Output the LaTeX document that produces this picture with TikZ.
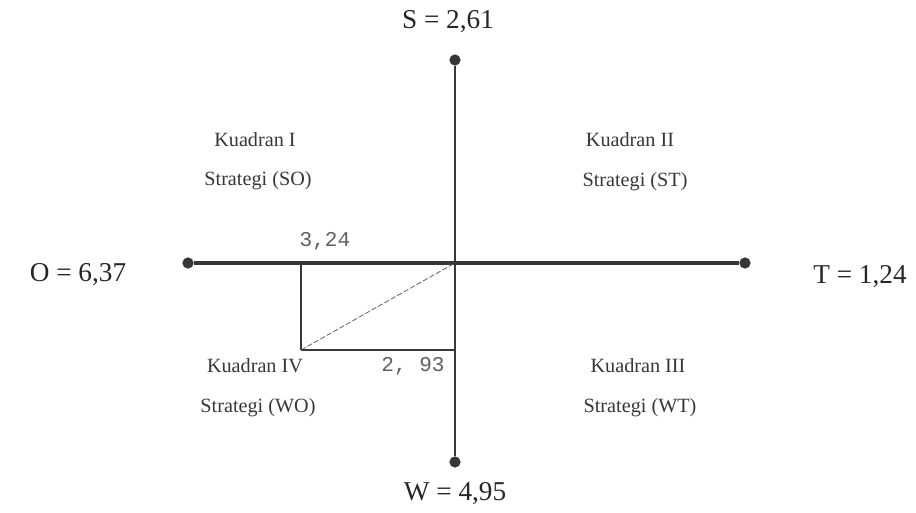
\documentclass[tikz,border=0pt]{standalone}
\usepackage{fontspec}
\setmainfont{Liberation Serif}
\newfontfamily\numfont{Liberation Mono}
\usetikzlibrary{positioning}
\definecolor{ink}{RGB}{55,55,55}
\definecolor{numgray}{RGB}{95,95,95}

\begin{document}
\begin{tikzpicture}[x=0.02cm,y=-0.02cm,
  dot/.style={circle,fill=ink,inner sep=0pt,minimum size=6.4pt},
  quad/.style={font=\fontsize{11.5}{13}\selectfont,text=ink},
  axlabel/.style={font=\fontsize{15.5}{18}\selectfont,text=black!85},
  num/.style={font=\numfont\fontsize{12}{14}\selectfont,text=numgray}]

\useasboundingbox (0,0) rectangle (916,513);

% Centre and end points
\coordinate (c) at (455,263);
\node[dot] (O) at (188,263) {};
\node[dot] (T) at (745,263) {};
\node[dot] (S) at (455,60) {};
\node[dot] (W) at (455,462) {};

% Axes
\draw[ink, line width=2.3pt] (O) -- (T);
\draw[ink, line width=1.1pt] (S) -- (W);

% Values
\node[axlabel] (sval) at (448,22) {S = 2,61};
\node[axlabel] (wval) at (455,494) {W = 4,95};
\node[axlabel] (oval) at (78,275) {O = 6,37};
\node[axlabel] (tval) at (860,277) {T = 1,24};

% Position point
\coordinate (p) at (301,350);
\draw[ink, line width=0.6pt] (p) -- (301,263);
\draw[ink, line width=0.6pt] (p) -- (455,350);
\draw[numgray, line width=0.45pt, dash pattern=on 3pt off 1.2pt] (p) -- (c);
\node[num] (xval) at (325,241) {3,24};
\node[num] (yval) at (413,366) {2, 93};

% Quadrants
\node[quad] (k1) at (255,140) {Kuadran I};
\node[quad] (s1) at (258,181) {Strategi (SO)};
\node[quad] (k2) at (630,140) {Kuadran II};
\node[quad] (s2) at (635,182) {Strategi (ST)};
\node[quad] (k4) at (255,366) {Kuadran IV};
\node[quad] (s4) at (258,408) {Strategi (WO)};
\node[quad] (k3) at (638,366) {Kuadran III};
\node[quad] (s3) at (640,408) {Strategi (WT)};

\end{tikzpicture}
\end{document}
